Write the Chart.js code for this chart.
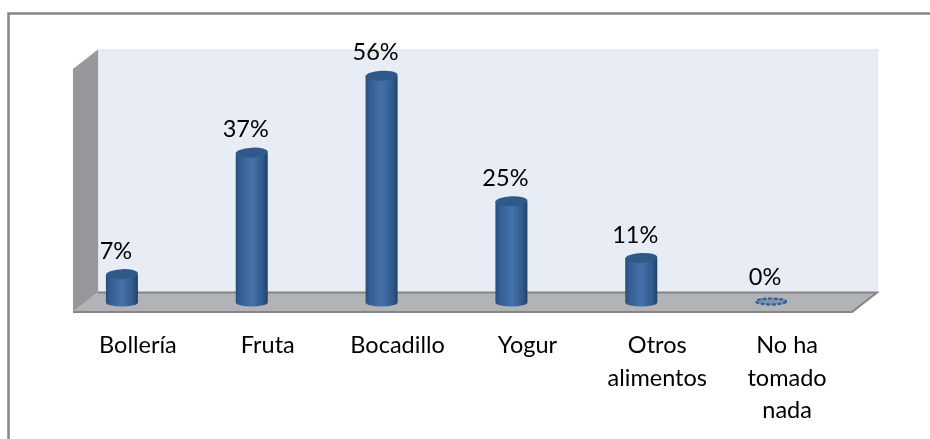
<!DOCTYPE html>
<html><head><meta charset="utf-8">
<style>html,body{margin:0;padding:0;background:#fff}canvas{display:block}</style>
<script src="https://cdn.jsdelivr.net/npm/chart.js@4"></script></head>
<body><canvas id="c" width="930" height="439"></canvas>
<script>
const categories = [["Bollería"],["Fruta"],["Bocadillo"],["Yogur"],["Otros","alimentos"],["No ha","tomado","nada"]];
const values = [7,37,56,25,11,0];
const valueLabels = ["7%","37%","56%","25%","11%","0%"];
const FONT = 'Lato, "Open Sans", sans-serif';
const depthX = 25, depthY = 19.5, barShift = 16, labelShift = 6, rx = 16, ry = 5;

const scene = {
  id:'scene',
  beforeDatasetsDraw(chart){
    const {ctx,chartArea:a,scales:{y}} = chart;
    const L=a.left,R=a.right,floorF=y.getPixelForValue(0)+9.5,floorB=floorF-depthY,topB=floorB-(y.getPixelForValue(0)-y.getPixelForValue(60));
    ctx.save();
    ctx.strokeStyle='#868686';ctx.lineWidth=2.5;
    ctx.beginPath();ctx.moveTo(8.5,439);ctx.lineTo(8.5,13.5);ctx.lineTo(930,13.5);ctx.stroke();
    ctx.fillStyle='#e8ecf5';ctx.fillRect(L+depthX,topB,R-L,floorB-topB);
    ctx.strokeStyle='#dfe3ee';ctx.lineWidth=1;ctx.strokeRect(L+depthX+.5,topB+.5,R-L,floorB-topB);
    ctx.fillStyle='#97989c';
    ctx.beginPath();ctx.moveTo(L,topB+depthY);ctx.lineTo(L+depthX,topB);ctx.lineTo(L+depthX,floorB);ctx.lineTo(L,floorF);ctx.closePath();ctx.fill();
    ctx.fillStyle='#b1b3b6';
    ctx.beginPath();ctx.moveTo(L,floorF);ctx.lineTo(L+depthX,floorB);ctx.lineTo(R+depthX,floorB);ctx.lineTo(R,floorF);ctx.closePath();ctx.fill();
    ctx.strokeStyle='#858585';ctx.lineWidth=2;
    ctx.beginPath();ctx.moveTo(L,floorF);ctx.lineTo(R,floorF);ctx.lineTo(R+depthX,floorB);ctx.lineTo(L+depthX,floorB);ctx.stroke();
    ctx.restore();
  },
  afterDatasetsDraw(chart){
    const {ctx,scales:{y}} = chart, base=y.getPixelForValue(0);
    chart.getDatasetMeta(0).data.forEach((el,i)=>{
      const cx=el.x-barShift, top=el.y;
      ctx.save();
      if(values[i]===0){
        ctx.beginPath();ctx.ellipse(cx,base-1,rx-1,ry-2,0,0,Math.PI*2);
        ctx.fillStyle='#7f93ab';ctx.fill();
        ctx.setLineDash([4,1.5]);ctx.strokeStyle='#2f5f9a';ctx.lineWidth=2.2;ctx.stroke();
      }else{
        const g=ctx.createLinearGradient(cx-rx,0,cx+rx,0);
        g.addColorStop(0,'#274b78');g.addColorStop(.12,'#335d92');g.addColorStop(.5,'#4672aa');g.addColorStop(.85,'#30598c');g.addColorStop(1,'#223f66');
        ctx.beginPath();ctx.moveTo(cx-rx,top);ctx.lineTo(cx-rx,base);
        ctx.ellipse(cx,base,rx,ry-1,0,Math.PI,0,true);
        ctx.lineTo(cx+rx,top);ctx.closePath();ctx.fillStyle=g;ctx.fill();
        ctx.beginPath();ctx.ellipse(cx,top,rx,ry,-0.05,0,Math.PI*2);ctx.fillStyle='#2f5988';ctx.fill();
      }
      ctx.fillStyle='#000';ctx.font='23.5px '+FONT;ctx.textAlign='center';ctx.textBaseline='middle';
      ctx.fillText(valueLabels[i],cx-labelShift,top-(values[i]===0?25:23));
      ctx.restore();
    });
  }
};
new Chart(document.getElementById('c'),{
  type:'bar',
  data:{labels:categories,datasets:[{data:values,backgroundColor:'rgba(0,0,0,0)',borderWidth:0}]},
  plugins:[scene],
  options:{
    responsive:false,animation:false,
    layout:{padding:{left:73,right:78,top:59.5,bottom:0}},
    plugins:{legend:{display:false},tooltip:{enabled:false}},
    scales:{
      y:{display:false,min:0,max:60},
      x:{grid:{display:false},border:{display:false},
        afterFit(s){s.height=439-302.5;},
        ticks:{color:'#000',maxRotation:0,autoSkip:false,padding:19,font:{family:FONT,size:23.5,lineHeight:'32.5px'}}}
    }
  }
});
</script></body></html>
